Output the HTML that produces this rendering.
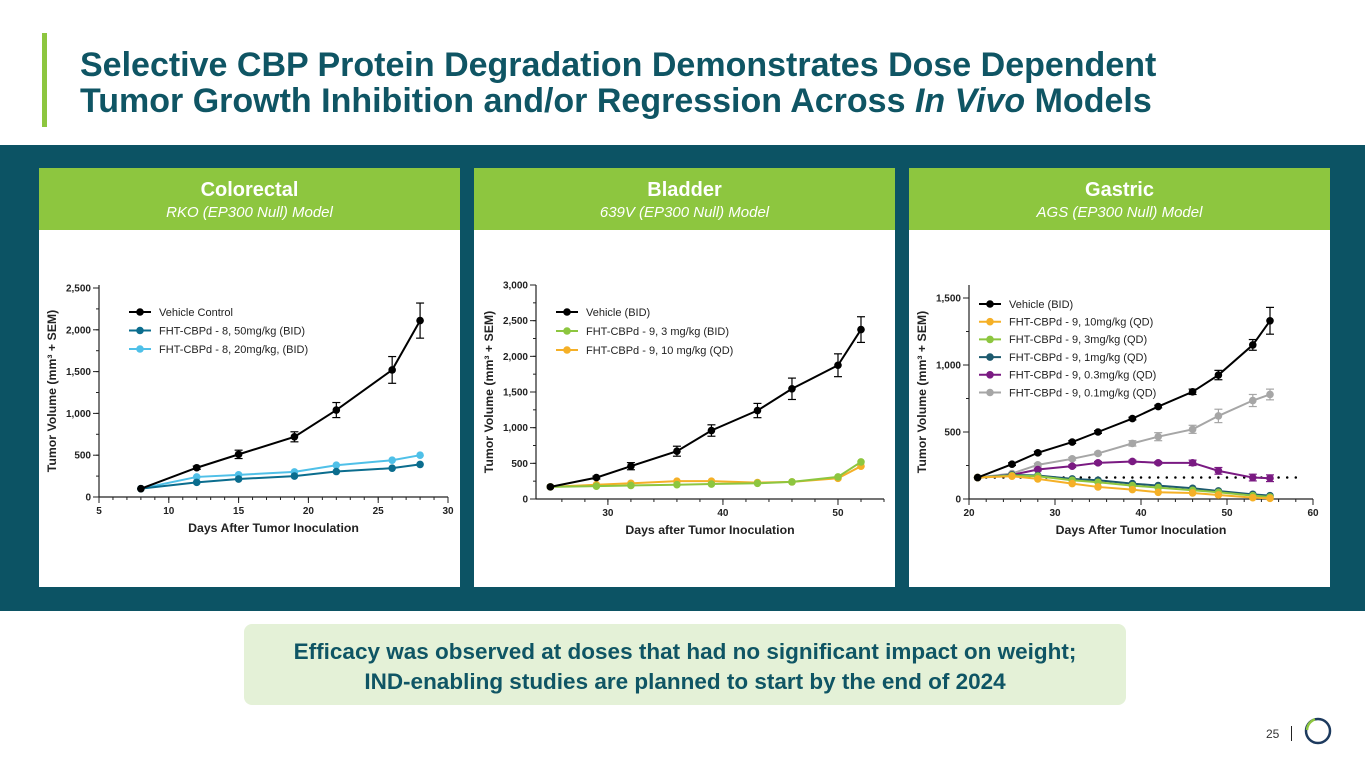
<!DOCTYPE html>
<html><head><meta charset="utf-8">
<style>
body{margin:0;width:1365px;height:768px;position:relative;background:#fff;font-family:"Liberation Sans",Arial,sans-serif;overflow:hidden}
.abs{position:absolute}
.title{left:80px;top:47px;font-size:34px;font-weight:bold;color:#0f5564;line-height:36px;white-space:nowrap}
.band{left:0;top:145px;width:1365px;height:466px;background:#0c5364}
.panel{top:168px;width:421px;height:419px;background:#fff}
.ph{position:absolute;left:0;top:0;width:100%;height:62px;background:#8dc63f;color:#fff;text-align:center}
.ph b{display:block;font-size:20px;margin-top:11px}
.ph i{display:block;font-size:15px;margin-top:2px}
svg text{font-family:"Liberation Sans",Arial,sans-serif}
.note{left:244px;top:624px;width:882px;height:81px;background:#e4f1d7;border-radius:8px;color:#0f5564;font-weight:bold;font-size:22.5px;text-align:center;line-height:30px;box-sizing:border-box;padding-top:13px;white-space:nowrap}
</style></head><body>
<div class="abs" style="left:42px;top:33px;width:5px;height:94px;background:#8dc63f"></div>
<div class="abs title">Selective CBP Protein Degradation Demonstrates Dose Dependent<br>Tumor Growth Inhibition and/or Regression Across <i>In Vivo</i> Models</div>
<div class="abs band"></div>
<div class="abs panel" style="left:39px"><div class="ph"><b>Colorectal</b><i>RKO (EP300 Null) Model</i></div></div>
<div class="abs panel" style="left:474px"><div class="ph"><b>Bladder</b><i>639V (EP300 Null) Model</i></div></div>
<div class="abs panel" style="left:909px"><div class="ph"><b>Gastric</b><i>AGS (EP300 Null) Model</i></div></div>
<svg class="abs" style="left:0;top:0" width="1365" height="768" id="charts"></svg>
<div class="abs note">Efficacy was observed at doses that had no significant impact on weight;<br>IND-enabling studies are planned to start by the end of 2024</div>
<div class="abs" style="left:1266px;top:727px;font-size:12px;color:#333">25</div>
<div class="abs" style="left:1291px;top:726px;width:1px;height:15px;background:#222"></div>
<svg class="abs" style="left:1303px;top:716px" width="30" height="30">
<circle cx="15" cy="15" r="12" fill="none" stroke="#1d3a5e" stroke-width="2.5"/>
<path d="M4 14 A12 12 0 0 1 12 3.3" fill="none" stroke="#8dc63f" stroke-width="2.5"/>
</svg>
<script>
// Chart 1: Colorectal
const c1Days=[8,12,15,19,22,26,28];
const c1Vehicle=[100,350,510,720,1040,1520,2110];
const c1VehicleErr=[0,20,50,60,90,160,210];
const c1Dose50=[100,175,215,250,305,345,390];
const c1Dose20=[100,240,265,300,380,440,500];
const c1XTicks=[5,10,15,20,25,30];
const c1YTicks=[0,500,1000,1500,2000,2500];
// Chart 2: Bladder
const c2Days=[25,29,32,36,39,43,46,50,52];
const c2Vehicle=[170,300,460,670,960,1240,1545,1875,2375];
const c2VehicleErr=[0,20,50,70,80,100,150,160,180];
const c2Dose3=[170,180,190,200,210,220,240,310,520];
const c2Dose10=[170,200,220,250,250,230,240,290,460];
const c2XTicks=[30,40,50];
const c2YTicks=[0,500,1000,1500,2000,2500,3000];
// Chart 3: Gastric
const c3Days=[21,25,28,32,35,39,42,46,49,53,55];
const c3Vehicle=[160,260,345,425,500,600,690,800,925,1150,1330];
const c3VehicleErr=[0,10,10,10,10,10,10,20,35,40,100];
const c3Dose10=[160,170,150,115,90,70,50,45,30,10,5];
const c3Dose3=[160,175,170,140,125,100,85,65,50,25,15];
const c3Dose1=[160,180,175,150,140,115,100,80,60,35,25];
const c3Dose03=[160,180,220,245,270,280,270,270,210,160,155];
const c3Dose03Err=[0,5,10,10,10,10,10,20,25,25,25];
const c3Dose01=[160,190,255,300,340,415,465,520,620,735,780];
const c3Dose01Err=[0,5,10,10,10,20,30,30,50,45,40];
const c3XTicks=[20,30,40,50,60];
const c3YTicks=[0,500,1000,1500];
const c3Baseline=160;

const svg=document.getElementById('charts');
const NS='http://www.w3.org/2000/svg';
function mk(tag,attrs,parent){const e=document.createElementNS(NS,tag);for(const k in attrs)e.setAttribute(k,attrs[k]);(parent||svg).appendChild(e);return e;}
function fmt(v){return v.toLocaleString('en-US');}

function chart(cfg){
  const g=mk('g',{});
  
  
  const xs=v=>cfg.x0+(v-cfg.xmin)/(cfg.xmax-cfg.xmin)*(cfg.x1-cfg.x0);
  const ys=v=>cfg.y0-(v-cfg.ymin)/(cfg.ymax-cfg.ymin)*(cfg.y0-cfg.y1);
  const ax=mk('g',{},g);
  
  
  mk('line',{x1:cfg.x0,y1:cfg.y0,x2:cfg.x1,y2:cfg.y0,stroke:'#222','stroke-width':1.2},ax);
  mk('line',{x1:cfg.x0,y1:cfg.y0,x2:cfg.x0,y2:cfg.ytop,stroke:'#222','stroke-width':1.2},ax);
  for(let v=cfg.xminorStart;v<=cfg.xmax+0.001;v+=cfg.xminor){mk('line',{x1:xs(v),y1:cfg.y0,x2:xs(v),y2:cfg.y0+3,stroke:'#222'},ax);}
  cfg.xt.forEach(v=>{mk('line',{x1:xs(v),y1:cfg.y0,x2:xs(v),y2:cfg.y0+6,stroke:'#222'},ax);
    const t=mk('text',{x:xs(v),y:cfg.y0+17,'font-size':10,'font-weight':'bold','text-anchor':'middle',fill:'#222'},ax);t.textContent=v;
    });
  for(let v=cfg.ymin;v<=cfg.ymax+0.001;v+=cfg.yminor){mk('line',{x1:cfg.x0-3,y1:ys(v),x2:cfg.x0,y2:ys(v),stroke:'#222'},ax);}
  cfg.yt.forEach(v=>{mk('line',{x1:cfg.x0-6,y1:ys(v),x2:cfg.x0,y2:ys(v),stroke:'#222'},ax);
    const t=mk('text',{x:cfg.x0-8,y:ys(v)+3.5,'font-size':10,'font-weight':'bold','text-anchor':'end',fill:'#222'},ax);t.textContent=fmt(v);
    });
  const xt=mk('text',{x:(cfg.x0+cfg.x1)/2,y:cfg.y0+35,'font-size':12.3,'font-weight':'bold','text-anchor':'middle',fill:'#222'},g);
  xt.textContent=cfg.xlabel;
  const cy=(cfg.y0+cfg.ytop)/2, cx=cfg.x0-43;
  const yt=mk('text',{x:cx,y:cy,'font-size':12.3,'font-weight':'bold','text-anchor':'middle',fill:'#222',transform:`rotate(-90 ${cx} ${cy})`},g);
  yt.textContent='Tumor Volume (mm³ + SEM)';
  if(cfg.baseline!==undefined){
    const bl=mk('line',{x1:xs(cfg.baseStart),y1:ys(cfg.baseline),x2:xs(cfg.baseEnd),y2:ys(cfg.baseline),stroke:'#000','stroke-width':2.5,'stroke-dasharray':'0 8.6','stroke-linecap':'round'},g);
    
  }
  cfg.series.slice().reverse().forEach(s=>{
    const sg=mk('g',{},g);
    
    
    if(s.err)s.vals.forEach((v,i)=>{if(s.err[i]>0){const x=xs(cfg.days[i]);
      mk('line',{x1:x,y1:ys(v-s.err[i]),x2:x,y2:ys(v+s.err[i]),stroke:s.c,'stroke-width':1.2},sg);
      mk('line',{x1:x-4,y1:ys(v+s.err[i]),x2:x+4,y2:ys(v+s.err[i]),stroke:s.c,'stroke-width':1.2},sg);
      mk('line',{x1:x-4,y1:ys(v-s.err[i]),x2:x+4,y2:ys(v-s.err[i]),stroke:s.c,'stroke-width':1.2},sg);}});
    mk('polyline',{points:s.vals.map((v,i)=>xs(cfg.days[i])+','+ys(v)).join(' '),fill:'none',stroke:s.c,'stroke-width':2},sg);
    s.vals.forEach((v,i)=>{const p=mk('circle',{cx:xs(cfg.days[i]),cy:ys(v),r:3.8,fill:s.c},sg);
      });
  });
  cfg.series.forEach((s,i)=>{
    const ly=cfg.ly+i*cfg.lstep;
    const lg=mk('g',{},g);
    
    
    mk('line',{x1:cfg.lx,y1:ly,x2:cfg.lx+22,y2:ly,stroke:s.c,'stroke-width':2},lg);
    mk('circle',{cx:cfg.lx+11,cy:ly,r:3.8,fill:s.c},lg);
    const t=mk('text',{x:cfg.lx+30,y:ly+3.8,'font-size':11,fill:'#222'},lg);t.textContent=s.label;
  });
}
chart({name:'colorectal-chart',x0:99,x1:448,y0:497,y1:288,ytop:285,xmin:5,xmax:30,ymin:0,ymax:2500,xminor:1,xminorStart:5,yminor:250,
  xt:c1XTicks,yt:c1YTicks,days:c1Days,xlabel:'Days After Tumor Inoculation',lx:129,ly:312,lstep:18.5,
  series:[{id:'vehicle-control-series',label:'Vehicle Control',c:'#000',vals:c1Vehicle,err:c1VehicleErr},
    {id:'dose-50mg-series',label:'FHT-CBPd - 8, 50mg/kg (BID)',c:'#0b6d8e',vals:c1Dose50},
    {id:'dose-20mg-series',label:'FHT-CBPd - 8, 20mg/kg, (BID)',c:'#4fc0e8',vals:c1Dose20}]});
chart({name:'bladder-chart',x0:536,x1:884,y0:499,y1:285,ytop:285,xmin:23.75,xmax:54,ymin:0,ymax:3000,xminor:2,xminorStart:26,yminor:250,
  xt:c2XTicks,yt:c2YTicks,days:c2Days,xlabel:'Days after Tumor Inoculation',lx:556,ly:312,lstep:19,
  series:[{id:'vehicle-series',label:'Vehicle (BID)',c:'#000',vals:c2Vehicle,err:c2VehicleErr},
    {id:'dose-3mg-series',label:'FHT-CBPd - 9, 3 mg/kg (BID)',c:'#8dc63f',vals:c2Dose3},
    {id:'dose-10mg-series',label:'FHT-CBPd - 9, 10 mg/kg (QD)',c:'#f5b027',vals:c2Dose10}]});
chart({name:'gastric-chart',x0:969,x1:1313,y0:499,y1:298,ytop:285,xmin:20,xmax:60,ymin:0,ymax:1500,xminor:2,xminorStart:20,yminor:250,
  xt:c3XTicks,yt:c3YTicks,days:c3Days,xlabel:'Days After Tumor Inoculation',lx:979,ly:304,lstep:17.7,
  baseline:c3Baseline,baseStart:21,baseEnd:59,
  series:[{id:'vehicle-series',label:'Vehicle (BID)',c:'#000',vals:c3Vehicle,err:c3VehicleErr},
    {id:'dose-10mg-series',label:'FHT-CBPd - 9, 10mg/kg (QD)',c:'#f5b027',vals:c3Dose10},
    {id:'dose-3mg-series',label:'FHT-CBPd - 9, 3mg/kg (QD)',c:'#8dc63f',vals:c3Dose3},
    {id:'dose-1mg-series',label:'FHT-CBPd - 9, 1mg/kg (QD)',c:'#1d5a6e',vals:c3Dose1},
    {id:'dose-03mg-series',label:'FHT-CBPd - 9, 0.3mg/kg (QD)',c:'#7a1a82',vals:c3Dose03,err:c3Dose03Err},
    {id:'dose-01mg-series',label:'FHT-CBPd - 9, 0.1mg/kg (QD)',c:'#a6a6a6',vals:c3Dose01,err:c3Dose01Err}]});
</script>
</body></html>
